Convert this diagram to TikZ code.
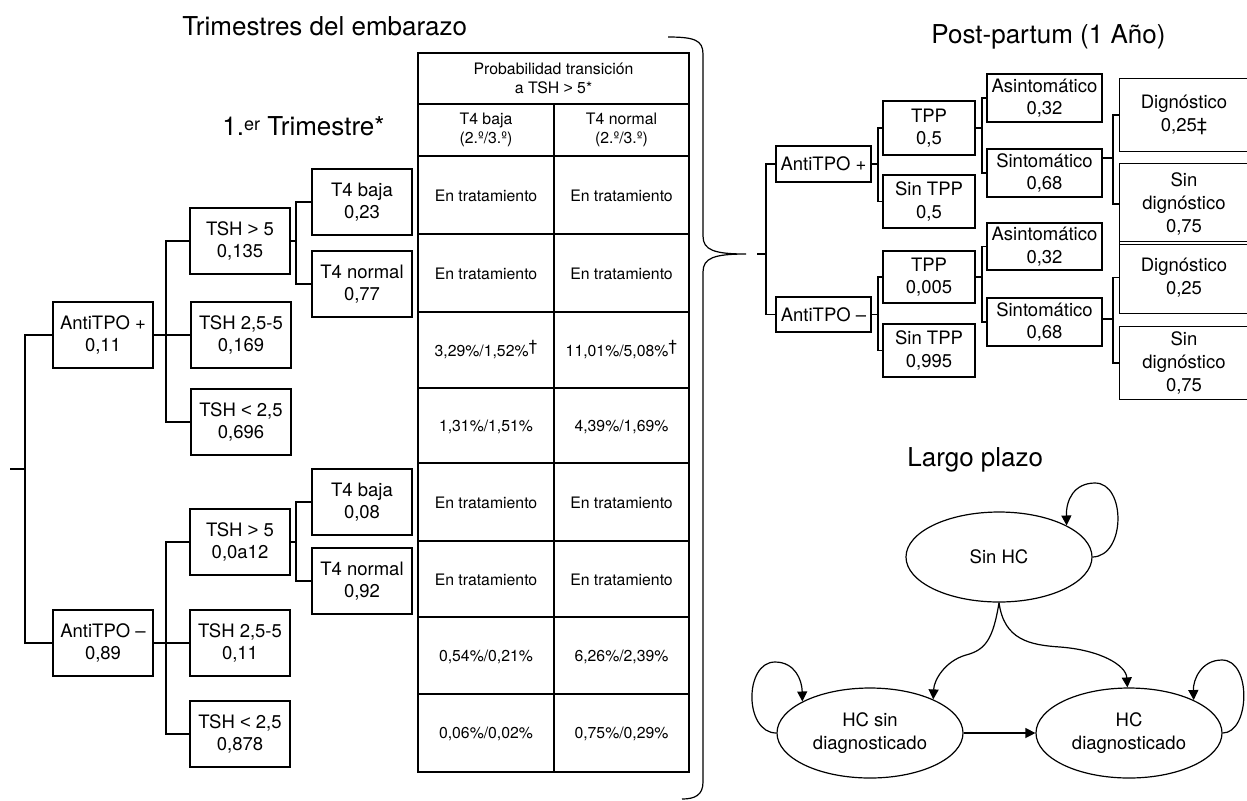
\documentclass[tikz,border=0pt]{standalone}
\usepackage{fontspec}
\setmainfont{TeX Gyre Heros}
\newfontfamily\libsans{Liberation Sans}
\newcommand{\gtr}{{\libsans >}}
\newcommand{\lss}{{\libsans <}}
\usetikzlibrary{shapes.geometric,arrows.meta}
\begin{document}
\begin{tikzpicture}[x=0.5pt,y=-0.5pt,
  ln/.style={line width=0.6pt},
  arr/.style={ln,-{Triangle[length=5pt,width=5pt]}},
  tbox/.style={draw,line width=0.6pt,align=center,inner sep=0pt,font=\fontsize{9.25}{11.35}\selectfont},
  obox/.style={align=center,inner sep=0pt,font=\fontsize{9.25}{11.35}\selectfont},
  lsz/.style={minimum width=50pt,minimum height=33pt},
  cell/.style={align=center,inner sep=0pt,font=\fontsize{7.9}{9.6}\selectfont},
  ttl/.style={inner sep=0pt,anchor=base west,font=\fontsize{13}{15.6}\selectfont},
  ell/.style={ellipse,draw,line width=0.6pt,minimum width=93pt,minimum height=45pt,inner sep=0pt,align=center,font=\fontsize{9.25}{11.35}\selectfont}
]
\useasboundingbox (0,0) rectangle (1247,800);

% ---------- titles
\node[ttl] (t1) at (182,35) {Trimestres del embarazo};
\node[ttl] (t2) at (222,135) {1.\raisebox{0.35ex}{\fontsize{9}{10}\selectfont er} Trimestre*};
\node[ttl] (t3) at (931,43) {Post-partum (1 Año)};
\node[ttl] (t4) at (907,466) {Largo plazo};

% ---------- left tree
\node[tbox,lsz] (ap) at (103,335) {AntiTPO +\\0,11};
\node[tbox,lsz] (a1) at (240,241) {TSH \gtr{} 5\\0,135};
\node[tbox,lsz] (a2) at (241,335) {TSH 2,5-5\\0,169};
\node[tbox,lsz] (a3) at (241,422) {TSH \lss{} 2,5\\0,696};
\node[tbox,lsz] (a11) at (362,202) {T4 baja\\0,23};
\node[tbox,lsz] (a12) at (362,284) {T4 normal\\0,77};
\node[tbox,lsz] (am) at (103,643) {AntiTPO –\\0,89};
\node[tbox,lsz] (b1) at (240,542) {TSH \gtr{} 5\\0,0a12};
\node[tbox,lsz] (b2) at (240,643) {TSH 2,5-5\\0,11};
\node[tbox,lsz] (b3) at (240,734) {TSH \lss{} 2,5\\0,878};
\node[tbox,lsz] (b11) at (362,502) {T4 baja\\0,08};
\node[tbox,lsz] (b12) at (362,581) {T4 normal\\0,92};

\coordinate (rootL) at (10,469);
\coordinate (busL) at (25,469);
\draw[ln] (rootL) -- (busL);
\draw[ln] (ap.west) -| (busL);
\draw[ln] (am.west) -| (busL);
\coordinate (bA) at (166,335);
\draw[ln] (ap.east) -- (a2.west);
\draw[ln] (a1.west) -| (bA) |- (a3.west);
\coordinate (bA1) at (296,241);
\draw[ln] (a1.east) -- (bA1);
\draw[ln] (a11.west) -| (bA1) |- (a12.west);
\coordinate (bB) at (166,643);
\draw[ln] (am.east) -- (b2.west);
\draw[ln] (b1.west) -| (bB) |- (b3.west);
\coordinate (bB1) at (296,542);
\draw[ln] (b1.east) -- (bB1);
\draw[ln] (b11.west) -| (bB1) |- (b12.west);

% ---------- table
\draw[ln] (418,53) rectangle (689,772);
\foreach \yy in {104,156,234,312,388,463,541,617,694} \draw[ln] (418,\yy) -- (689,\yy);
\draw[ln] (554,104) -- (554,772);
\node[cell] (th) at (553.5,78.5) {Probabilidad transición\\a TSH \gtr{} 5*};
\node[cell] (tc1) at (486,130) {T4 baja\\(2.º/3.º)};
\node[cell] (tc2) at (621.5,130) {T4 normal\\(2.º/3.º)};
\node[cell] (r1a) at (486,196) {En tratamiento};
\node[cell] (r1b) at (621.5,196) {En tratamiento};
\node[cell] (r2a) at (486,274) {En tratamiento};
\node[cell] (r2b) at (621.5,274) {En tratamiento};
\node[cell] (r3a) at (486,350) {3,29\%/1,52\%\raisebox{0.6ex}{†}};
\node[cell] (r3b) at (621.5,350) {11,01\%/5,08\%\raisebox{0.6ex}{†}};
\node[cell] (r4a) at (486,427) {1,31\%/1,51\%};
\node[cell] (r4b) at (621.5,427) {4,39\%/1,69\%};
\node[cell] (r5a) at (486,503) {En tratamiento};
\node[cell] (r5b) at (621.5,503) {En tratamiento};
\node[cell] (r6a) at (486,580) {En tratamiento};
\node[cell] (r6b) at (621.5,580) {En tratamiento};
\node[cell] (r7a) at (486,657) {0,54\%/0,21\%};
\node[cell] (r7b) at (621.5,657) {6,26\%/2,39\%};
\node[cell] (r8a) at (486,734) {0,06\%/0,02\%};
\node[cell] (r8b) at (621.5,734) {0,75\%/0,29\%};

% ---------- brace
\draw[ln] (668,37) .. controls (694,37) and (703,40) .. (703,54) -- (703,236)
  .. controls (703,250) and (714,254) .. (746,254)
  .. controls (714,254) and (703,258) .. (703,272) -- (703,782)
  .. controls (703,795) and (695,799) .. (682,799);

% ---------- post-partum tree
\node[tbox,minimum width=47.5pt,minimum height=18pt] (pp) at (823.5,164) {AntiTPO +};
\node[tbox,minimum width=47.5pt,minimum height=17.5pt] (pm) at (823.5,314.5) {AntiTPO –};
\node[tbox,minimum width=46pt,minimum height=27pt] (p1) at (929,128) {TPP\\0,5};
\node[tbox,minimum width=46pt,minimum height=26.5pt] (p2) at (929,201.5) {Sin TPP\\0,5};
\node[tbox,minimum width=46pt,minimum height=26pt] (m1) at (929,277) {TPP\\0,005};
\node[tbox,minimum width=46pt,minimum height=26.5pt] (m2) at (929,350.5) {Sin TPP\\0,995};
\node[tbox,minimum width=57.5pt,minimum height=24pt] (p11) at (1044.5,98) {Asintomático\\0,32};
\node[tbox,minimum width=57.5pt,minimum height=24pt] (p12) at (1044.5,173) {Sintomático\\0,68};
\node[tbox,minimum width=57.5pt,minimum height=23.5pt] (m11) at (1044.5,246.5) {Asintomático\\0,32};
\node[tbox,minimum width=57.5pt,minimum height=24pt] (m12) at (1044.5,322) {Sintomático\\0,68};
\node[obox,minimum width=64pt,minimum height=36pt] (D1) at (1184,115) {Dignóstico\\0,25‡};
\node[obox,minimum width=64pt,minimum height=40pt] (S1) at (1184,204) {Sin\\dignóstico\\0,75};
\node[obox,minimum width=64pt,minimum height=35.5pt] (D2) at (1184,277.5) {Dignóstico\\0,25};
\node[obox,minimum width=64pt,minimum height=36pt] (S2) at (1184,363) {Sin\\dignóstico\\0,75};
\foreach \nn in {D1,S1,D2,S2}
  \draw[ln] (\nn.north east) -- (\nn.north west) -- (\nn.south west) -- (\nn.south east);

\coordinate (rootR) at (757,254);
\coordinate (busR) at (766,254);
\draw[ln] (rootR) -- (busR);
\draw[ln] (pp.west) -| (busR);
\draw[ln] (pm.west) -| (busR);
\coordinate (bpp) at (878,164);
\draw[ln] (pp.east) -- (bpp);
\draw[ln] (p1.west) -| (bpp) |- (p2.west);
\coordinate (bpm) at (878,314.5);
\draw[ln] (pm.east) -- (bpm);
\draw[ln] (m1.west) -| (bpm) |- (m2.west);
\coordinate (bp1) at (982,128);
\draw[ln] (p1.east) -- (bp1);
\draw[ln] (p11.west) -| (bp1) |- (p12.west);
\coordinate (bm1) at (982,277);
\draw[ln] (m1.east) -- (bm1);
\draw[ln] (m11.west) -| (bm1) |- (m12.west);
\coordinate (bp12) at (1113,158);
\draw[ln] (p12.east |- bp12) -- (bp12);
\draw[ln] (D1.west) -| (bp12) |- (S1.west);
\coordinate (bm12) at (1113,319);
\draw[ln] (m12.east |- bm12) -- (bm12);
\draw[ln] (D2.west) -| (bm12) |- (S2.west);

% ---------- long term
\node[ell] (sinhc) at (999,557) {Sin HC};
\node[ell] (hcsd) at (870,733) {HC sin\\diagnosticado};
\node[ell] (hcd) at (1129,733) {HC\\diagnosticado};

\draw[arr] (sinhc.east) .. controls (1126,556) and (1126,483) .. (1095,483)
  .. controls (1074,483) and (1066,500) .. (sinhc.25);
\draw[arr] (hcsd.west) .. controls (744,733) and (744,662) .. (775,662)
  .. controls (795,662) and (802,680) .. (hcsd.155);
\draw[arr] (hcd.east) .. controls (1250,733) and (1252,660) .. (1222,660)
  .. controls (1201,660) and (1193,680) .. (hcd.27);
\draw[arr] (sinhc.south) .. controls (993,640) and (985,650) .. (966,655)
  .. controls (945,661) and (934,680) .. (hcsd.28);
\draw[arr] (sinhc.south) .. controls (1004,640) and (1030,645) .. (1060,647)
  .. controls (1100,650) and (1126,665) .. (hcd.92);
\draw[arr] (hcsd.east) -- (hcd.west);
\end{tikzpicture}
\end{document}
